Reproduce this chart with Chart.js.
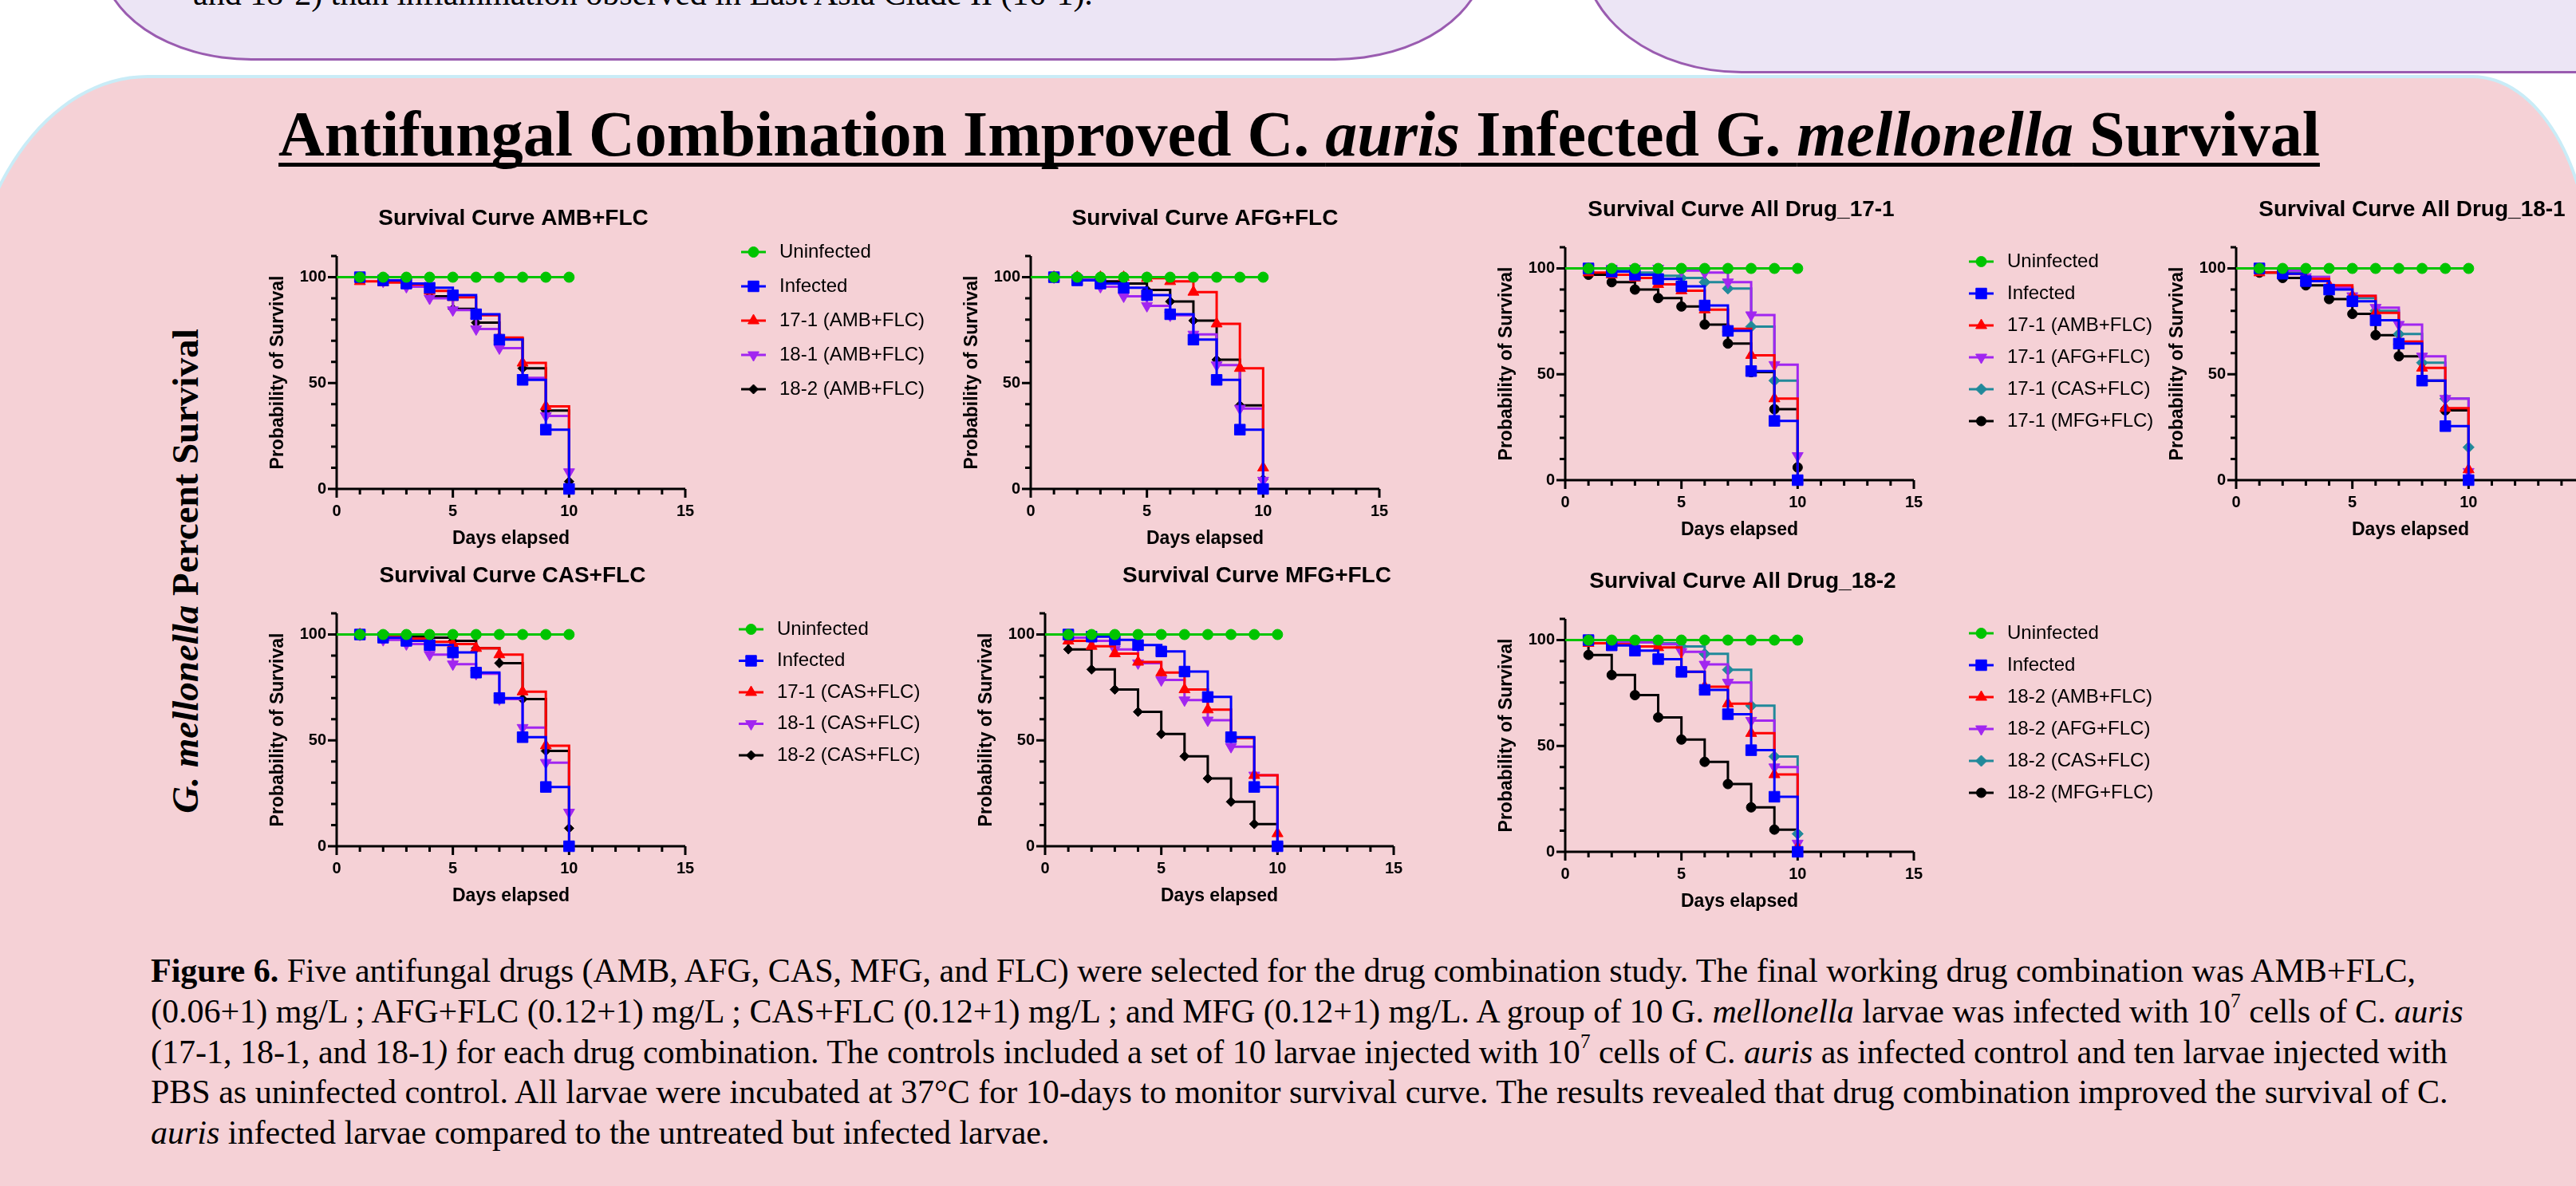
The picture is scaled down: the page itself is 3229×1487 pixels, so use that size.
<!DOCTYPE html>
<html>
<head>
<meta charset="utf-8">
<script src="https://cdn.jsdelivr.net/npm/chart.js@4.4.1/dist/chart.umd.min.js"></script>
<style>
  html, body { margin: 0; padding: 0; background: #fff; }
  #page { position: relative; width: 3229px; height: 1487px; overflow: hidden; background: #fff; }
  .shape { position: absolute; box-sizing: border-box; }
  #boxL { left: 125px; top: -400px; width: 1738px; height: 476px; background: #ece5f5;
          border: 3px solid #9a5cb0; border-radius: 0 0 190px 190px / 0 0 130px 130px; }
  #boxR { left: 1983px; top: -400px; width: 1400px; height: 492px; background: #ece5f5;
          border: 3px solid #9a5cb0; border-radius: 0 0 0 200px / 0 0 0 150px; }
  #panel { left: -45px; top: 94px; width: 3294px; height: 1500px; background: #f5d1d6;
           border: 4px solid #c9ecf7; border-radius: 230px 150px 0 0 / 330px 250px 0 0; }
  .serif { font-family: "Liberation Serif", "Times New Roman", serif; color: #000; position: absolute; white-space: nowrap; }
  #topText { left: 242px; top: -29px; font-size: 42px; line-height: 42px; }
  #mainTitle { left: 14px; width: 3229px; top: 128px; text-align: center; font-size: 80px; line-height: 80px; font-weight: bold;
               text-decoration: underline; text-decoration-thickness: 5px; text-underline-offset: 9px; text-decoration-skip-ink: none; }
  #sideLabel { left: 232px; top: 716px; font-size: 47px; line-height: 47px; font-weight: bold;
               transform: translate(-50%, -50%) rotate(-90deg); }
  #caption { left: 189px; top: 1192px; font-size: 42px; line-height: 50.8px; }
  #caption div { white-space: nowrap; }
  sup { font-size: 0.6em; line-height: 0; position: relative; top: -0.15em; vertical-align: super; }
  canvas { position: absolute; }
</style>
</head>
<body>
<div id="page">
  <div class="shape" id="boxL"></div>
  <div class="shape" id="boxR"></div>
  <div class="serif" id="topText">and 18-2) than inflammation observed in East Asia Clade II (16-1).</div>
  <div class="shape" id="panel"></div>
  <div class="serif" id="mainTitle">Antifungal Combination Improved C. <i>auris</i> Infected G. <i>mellonella</i> Survival</div>
  <div class="serif" id="sideLabel"><i>G. mellonella</i> Percent Survival</div>
  <div class="serif" id="caption">
    <div><b>Figure 6.</b> Five antifungal drugs (AMB, AFG, CAS, MFG, and FLC) were selected for the drug combination study. The final working drug combination was AMB+FLC,</div>
    <div>(0.06+1) mg/L ; AFG+FLC (0.12+1) mg/L ; CAS+FLC (0.12+1) mg/L ; and MFG (0.12+1) mg/L. A group of 10 G. <i>mellonella</i> larvae was infected with 10<sup>7</sup> cells of C. <i>auris</i></div>
    <div>(17-1, 18-1, and 18-1<i>)</i> for each drug combination. The controls included a set of 10 larvae injected with 10<sup>7</sup> cells of C. <i>auris</i> as infected control and ten larvae injected with</div>
    <div>PBS as uninfected control. All larvae were incubated at 37°C for 10-days to monitor survival curve. The results revealed that drug combination improved the survival of C.</div>
    <div><i>auris</i> infected larvae compared to the untreated but infected larvae.</div>
  </div>
</div>
<script>
const SANS = '"Liberation Sans", Arial, Helvetica, sans-serif';

// ── data (percent survival, day 0 .. day 10) ─────────────────────────
const DAYS = [0, 1, 2, 3, 4, 5, 6, 7, 8, 9, 10];
const X_TICKS = [0, 5, 10, 15];
const Y_TICKS = [0, 50, 100];

const uninfected = [100, 100, 100, 100, 100, 100, 100, 100, 100, 100, 100];
const infected = [100, 100, 98.5, 97, 95, 91.5, 82.5, 70.5, 51.5, 28, 0];

// AMB+FLC
const amb171 = [100, 98, 97.5, 96.5, 93.5, 90.5, 82, 71.5, 59.5, 39, 0];
const amb181 = [100, 100, 98, 95.5, 90, 84.5, 75.5, 66.5, 52.5, 34.5, 8];
const amb182 = [100, 100, 98.5, 97, 91, 85, 78.5, 71, 57, 37, 3.5];

// AFG+FLC
const afg171 = [100, 100, 100, 100, 100, 99.5, 98, 93, 78, 57, 10];
const afg181 = [100, 100, 99, 95.5, 91, 86.5, 82, 73, 58.5, 38, 4];
const afg182 = [100, 100, 99, 98, 97, 94, 88.5, 79.5, 61, 39.5, 4.5];

// All drug 17-1
const all171Amb = [100, 98, 97, 95.5, 92.5, 89.5, 80.5, 71.5, 59, 38.5, 0];
const all171Afg = [100, 100, 100, 100, 100, 99, 98, 93.5, 78, 54.5, 11.5];
const all171Cas = [100, 100, 99, 98, 96.5, 95.5, 93.5, 90.5, 72.5, 47, 0];
const all171Mfg = [100, 97, 93.5, 90, 86, 82, 73.5, 64.5, 51, 33.5, 6];

// All drug 18-1
const all181Infected = [100, 100, 97.5, 94, 90, 84.5, 75.5, 64.5, 47, 25.5, 0];
const all181Amb = [100, 98, 97.5, 95, 92, 87, 79, 65.5, 53, 34, 5];
const all181Afg = [100, 100, 99, 96, 91, 87, 81.5, 73.5, 58.5, 38.5, 4];
const all181Cas = [100, 100, 98, 96, 91, 86, 80, 69, 55.5, 38.5, 15.5];
const all181Mfg = [100, 98, 95.5, 92, 85.5, 78.5, 68.5, 58.5, 47, 33, 0];

// CAS+FLC
const casInfected = [100, 100, 98.5, 97, 95, 91.5, 82, 70, 51.5, 28, 0];
const cas171 = [100, 100, 99, 98, 96.5, 95.5, 93.5, 90.5, 73, 47.5, 0];
const cas181 = [100, 100, 97.5, 95.5, 90.5, 86, 81.5, 69.5, 56, 39.5, 16];
const cas182 = [100, 100, 99.5, 99, 98.5, 97, 93.5, 86.5, 69.5, 45, 8.5];

// MFG+FLC
const mfgInfected = [100, 100, 99, 97.5, 95, 92, 82.5, 70.5, 51.5, 28, 0];
const mfg171 = [100, 97, 94.5, 91, 87, 82, 74, 64.5, 51, 33.5, 6];
const mfg181 = [100, 98.5, 97, 93, 86.5, 78.5, 69, 59.5, 47, 33.5, 0];
const mfg182 = [100, 93, 83.5, 74, 63.5, 53, 42.5, 32, 21, 10.5, 0];

// All drug 18-2
const all182Infected = [100, 100, 97.5, 95, 91, 85, 76.5, 65, 48, 26, 0];
const all182Amb = [100, 98.5, 98, 97, 96.5, 85, 78, 70, 56, 36.5, 2];
const all182Afg = [100, 100, 99, 99, 98, 94.5, 88.5, 80, 62, 40, 4];
const all182Cas = [100, 100, 99.5, 99, 98.5, 97, 93.5, 86, 69, 45, 8.5];
const all182Mfg = [100, 93, 83.5, 74, 63.5, 53, 42.5, 32, 21, 10.5, 0];

// ── styles ───────────────────────────────────────────────────────────
const STYLES = {
  uninf:  { color: '#00c400', pointStyle: 'circle',   radius: 6.5, rotation: 0 },
  inf:    { color: '#0000ff', pointStyle: 'rect',     radius: 9.5, rotation: 0 },
  red:    { color: '#ff0000', pointStyle: 'triangle', radius: 8,   rotation: 0 },
  purple: { color: '#a126f0', pointStyle: 'triangle', radius: 8,   rotation: 180 },
  teal:   { color: '#21899a', pointStyle: 'rectRot',  radius: 7,   rotation: 0 },
  blackD: { color: '#000000', pointStyle: 'rectRot',  radius: 6,   rotation: 0 },
  blackC: { color: '#000000', pointStyle: 'circle',   radius: 6,   rotation: 0 },
};

const PANELS = [
  { ox: 422, oy: 613, title: 'Survival Curve AMB+FLC', titleDx: 3, legend: { dx: 70, dy: -5, gap: 43 },
    series: [['Uninfected', uninfected, 'uninf'], ['Infected', infected, 'inf'], ['17-1 (AMB+FLC)', amb171, 'red'],
             ['18-1 (AMB+FLC)', amb181, 'purple'], ['18-2 (AMB+FLC)', amb182, 'blackD']] },
  { ox: 1292, oy: 613, title: 'Survival Curve AFG+FLC', titleDx: 0, legend: null,
    series: [['Uninfected', uninfected, 'uninf'], ['Infected', infected, 'inf'], ['17-1 (AFG+FLC)', afg171, 'red'],
             ['18-1 (AFG+FLC)', afg181, 'purple'], ['18-2 (AFG+FLC)', afg182, 'blackD']] },
  { ox: 1962, oy: 602, title: 'Survival Curve All Drug_17-1', titleDx: 2, legend: { dx: 69, dy: 18, gap: 40 },
    series: [['Uninfected', uninfected, 'uninf'], ['Infected', infected, 'inf'], ['17-1 (AMB+FLC)', all171Amb, 'red'],
             ['17-1 (AFG+FLC)', all171Afg, 'purple'], ['17-1 (CAS+FLC)', all171Cas, 'teal'], ['17-1 (MFG+FLC)', all171Mfg, 'blackC']] },
  { ox: 2803, oy: 602, title: 'Survival Curve All Drug_18-1', titleDx: 2, legend: null,
    series: [['Uninfected', uninfected, 'uninf'], ['Infected', all181Infected, 'inf'], ['18-1 (AMB+FLC)', all181Amb, 'red'],
             ['18-1 (AFG+FLC)', all181Afg, 'purple'], ['18-1 (CAS+FLC)', all181Cas, 'teal'], ['18-1 (MFG+FLC)', all181Mfg, 'blackC']] },
  { ox: 422, oy: 1061, title: 'Survival Curve CAS+FLC', titleDx: 2, legend: { dx: 67, dy: 20, gap: 39.5 },
    series: [['Uninfected', uninfected, 'uninf'], ['Infected', casInfected, 'inf'], ['17-1 (CAS+FLC)', cas171, 'red'],
             ['18-1 (CAS+FLC)', cas181, 'purple'], ['18-2 (CAS+FLC)', cas182, 'blackD']] },
  { ox: 1310, oy: 1061, title: 'Survival Curve MFG+FLC', titleDx: 47, legend: null,
    series: [['Uninfected', uninfected, 'uninf'], ['Infected', mfgInfected, 'inf'], ['17-1 (MFG+FLC)', mfg171, 'red'],
             ['18-1 (MFG+FLC)', mfg181, 'purple'], ['18-2 (MFG+FLC)', mfg182, 'blackD']] },
  { ox: 1962, oy: 1068, title: 'Survival Curve All Drug_18-2', titleDx: 4, legend: { dx: 69, dy: 18, gap: 40 },
    series: [['Uninfected', uninfected, 'uninf'], ['Infected', all182Infected, 'inf'], ['18-2 (AMB+FLC)', all182Amb, 'red'],
             ['18-2 (AFG+FLC)', all182Afg, 'purple'], ['18-2 (CAS+FLC)', all182Cas, 'teal'], ['18-2 (MFG+FLC)', all182Mfg, 'blackC']] },
];

// plot geometry (px)
const Y_AXIS_W = 110, X_AXIS_H = 80, TOP_PAD = 80, PLOT_W = 437, PLOT_H = 292;

// Prism-style axes, ticks, title and legend
const prismPlugin = {
  id: 'prism',
  beforeDatasetsDraw(chart, args, o) {
    const { ctx, scales: { x, y } } = chart;
    const x0 = x.getPixelForValue(0), y0 = y.getPixelForValue(0);
    ctx.save();
    ctx.strokeStyle = '#000';
    ctx.lineWidth = 3;
    ctx.beginPath();
    ctx.moveTo(x0, y0 + 1.5); ctx.lineTo(x0, y.getPixelForValue(y.max));
    ctx.moveTo(x0 - 1.5, y0); ctx.lineTo(x.getPixelForValue(x.max), y0);
    for (let d = x.min; d <= x.max; d += 1) {
      const px = x.getPixelForValue(d);
      ctx.moveTo(px, y0); ctx.lineTo(px, y0 + (d % 5 === 0 ? 11 : 7));
    }
    for (let v = y.min; v <= y.max; v += 10) {
      const py = y.getPixelForValue(v);
      ctx.moveTo(x0, py); ctx.lineTo(x0 - (v % 50 === 0 ? 11 : 7), py);
    }
    ctx.stroke();
    ctx.restore();
  },
  afterDraw(chart, args, o) {
    const { ctx, chartArea } = chart;
    ctx.save();
    ctx.fillStyle = '#000';
    ctx.font = `bold 28px ${SANS}`;
    ctx.textAlign = 'center';
    ctx.textBaseline = 'middle';
    ctx.fillText(o.title, (chartArea.left + chartArea.right) / 2 + o.titleDx, chartArea.top - 47);
    if (o.legend) {
      chart.data.datasets.forEach((ds, i) => {
        const ly = chartArea.top + o.legend.dy + i * o.legend.gap;
        const lx = chartArea.right + o.legend.dx;
        ctx.strokeStyle = ds.borderColor;
        ctx.fillStyle = ds.borderColor;
        ctx.lineWidth = 3;
        ctx.beginPath(); ctx.moveTo(lx, ly); ctx.lineTo(lx + 31, ly); ctx.stroke();
        ctx.lineWidth = 1;
        Chart.helpers.drawPoint(ctx, { pointStyle: ds.pointStyle, rotation: ds.pointRotation, radius: ds.markerSize, borderWidth: 1 }, lx + 15.5, ly);
        ctx.fillStyle = '#000';
        ctx.font = `24px ${SANS}`;
        ctx.textAlign = 'left';
        ctx.fillText(ds.label, lx + 48, ly);
      });
    }
    ctx.restore();
  }
};

function makeDataset([label, values, styleKey]) {
  const s = STYLES[styleKey];
  return {
    label,
    data: values.map((v, i) => ({ x: DAYS[i], y: v })),
    borderColor: s.color,
    backgroundColor: s.color,
    pointBackgroundColor: s.color,
    pointBorderColor: s.color,
    borderWidth: 3,
    stepped: 'before',
    pointStyle: s.pointStyle,
    pointRotation: s.rotation,
    markerSize: s.radius,
    pointRadius: ctx => (ctx.dataIndex === 0 ? 0 : s.radius),
    pointBorderWidth: 1,
    pointHoverRadius: 0,
    clip: false,
    fill: false,
  };
}

const tickFont = { family: SANS, size: 20, weight: 'bold' };
const titleFont = { family: SANS, size: 23, weight: 'bold' };
const page = document.getElementById('page');

PANELS.forEach(p => {
  const rightPad = p.legend ? 380 : 40;
  const canvas = document.createElement('canvas');
  canvas.width = Y_AXIS_W + PLOT_W + rightPad;
  canvas.height = TOP_PAD + PLOT_H + X_AXIS_H;
  canvas.style.left = (p.ox - Y_AXIS_W) + 'px';
  canvas.style.top = (p.oy - PLOT_H - TOP_PAD) + 'px';
  canvas.style.width = canvas.width + 'px';
  canvas.style.height = canvas.height + 'px';
  page.appendChild(canvas);

  new Chart(canvas, {
    type: 'line',
    data: { datasets: p.series.map(makeDataset) },
    plugins: [prismPlugin],
    options: {
      responsive: false,
      animation: false,
      devicePixelRatio: 1,
      events: [],
      layout: { padding: { left: 0, top: TOP_PAD, right: rightPad, bottom: 0 } },
      plugins: {
        legend: { display: false },
        tooltip: { enabled: false },
        prism: { title: p.title, titleDx: p.titleDx, legend: p.legend },
      },
      scales: {
        x: {
          type: 'linear', min: 0, max: 15,
          afterBuildTicks: s => { s.ticks = X_TICKS.map(v => ({ value: v })); },
          afterFit: s => { s.height = X_AXIS_H; },
          grid: { display: false, drawTicks: true, tickLength: 10 },
          border: { display: false },
          ticks: { font: tickFont, color: '#000', padding: 6, maxRotation: 0, autoSkip: false },
          title: { display: true, text: 'Days elapsed', font: titleFont, color: '#000', padding: { top: 0, bottom: 4 } },
        },
        y: {
          type: 'linear', min: 0, max: 110,
          afterBuildTicks: s => { s.ticks = Y_TICKS.map(v => ({ value: v })); },
          afterFit: s => { s.width = Y_AXIS_W; },
          grid: { display: false, drawTicks: true, tickLength: 10 },
          border: { display: false },
          ticks: { font: tickFont, color: '#000', padding: 3, autoSkip: false },
          title: { display: true, text: 'Probability of Survival', font: titleFont, color: '#000', padding: { top: 23, bottom: 0 } },
        },
      },
    },
  });
});
</script>
</body>
</html>
